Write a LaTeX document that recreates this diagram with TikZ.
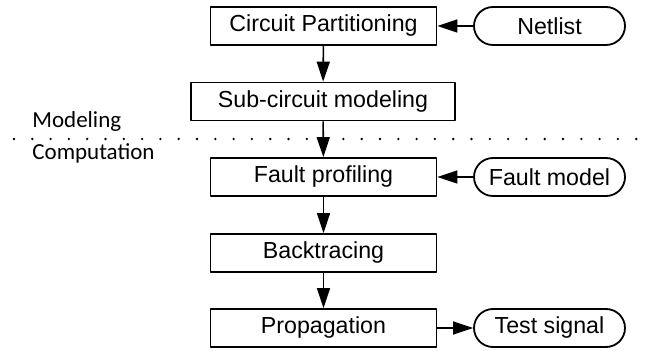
\documentclass[tikz,border=0pt]{standalone}
\usepackage{fontspec}
\setmainfont{Liberation Sans}
\newfontfamily\layerfont{Carlito}
\usetikzlibrary{arrows.meta}

\tikzset{
  block/.style={draw,line width=0.9pt,minimum width=113pt,minimum height=19pt,inner sep=0pt},
  io/.style={draw,line width=0.9pt,rounded corners=9.5pt,minimum width=75.5pt,minimum height=19pt,inner sep=0pt},
  flow/.style={->,line width=0.8pt},
  layer/.style={anchor=base west,inner sep=0pt,font=\layerfont\fontsize{11.5}{13}\selectfont}
}

\begin{document}
\begin{tikzpicture}[x=0.5pt,y=-0.5pt,>={Triangle[length=10pt,width=6.5pt]},line join=round,font=\fontsize{11.6}{13}\selectfont]
		\useasboundingbox (0,0) rectangle (651,351);
		% main flow
		\node[block] (part) at (323.5,26) {Circuit Partitioning};
		\node[block,minimum width=132pt] (sub) at (323,101.5) {Sub-circuit modeling};
		\node[block] (prof) at (323.5,177) {Fault profiling};
		\node[block] (back) at (323.5,253) {Backtracing};
		\node[block] (prop) at (323.5,328) {Propagation};
		% inputs and output
		\node[io] (net) at (549.5,26) {Netlist};
		\node[io] (fm) at (549.5,177) {Fault model};
		\node[io] (ts) at (549.5,328) {Test signal};
		% separator between the two stages
		\draw[line width=1.3pt,line cap=round,dash pattern=on 0pt off 9.15pt] (14,139) -- (651,139);
		\node[layer] (modl) at (32,128) {Modeling};
		\node[layer] (comp) at (32,160) {Computation};
		\draw[flow] (net) -- (part);
		\draw[flow] (part) -- (sub);
		\draw[flow] (sub) -- (prof);
		\draw[flow] (fm) -- (prof);
		\draw[flow] (prof) -- (back);
		\draw[flow] (back) -- (prop);
		\draw[flow] (prop) -- (ts);
\end{tikzpicture}
\end{document}
